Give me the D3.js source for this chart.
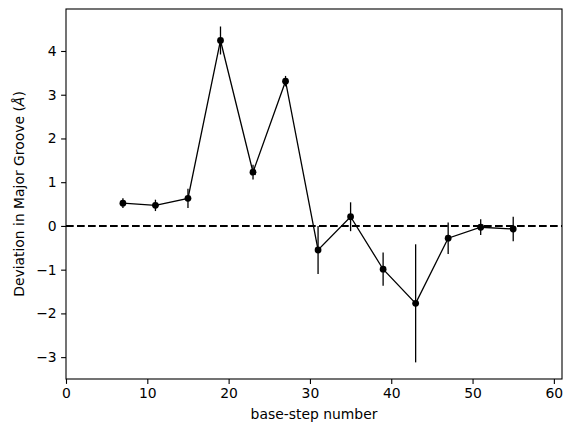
<!DOCTYPE html>
<html>
<head>
<meta charset="utf-8">
<script src="https://cdn.jsdelivr.net/npm/d3@7"></script>
<style>
  body { margin: 0; background: #fff; }
  svg text { font-family: "DejaVu Sans", sans-serif; fill: #000; }
</style>
</head>
<body>
<div id="chart"></div>
<script>
// base-step positions and the mean deviation with its error
let steps = [7, 11, 15, 19, 23, 27, 31, 35, 39, 43, 47, 51, 55];
let deviation = [0.52, 0.47, 0.63, 4.24, 1.23, 3.31, -0.55, 0.21, -0.99, -1.77, -0.28, -0.03, -0.07];
let deviationErr = [0.11, 0.13, 0.22, 0.32, 0.17, 0.12, 0.55, 0.33, 0.38, 1.35, 0.36, 0.18, 0.28];
let xTicks = [0, 10, 20, 30, 40, 50, 60];
let yTicks = [-3, -2, -1, 0, 1, 2, 3, 4];

let width = 572, height = 432;
let margin = {left: 66, right: 10, top: 9, bottom: 53};

let svg = d3.select("#chart").append("svg")
  .attr("width", width)
  .attr("height", height);

let x = d3.scaleLinear().domain([0, 61]).range([margin.left, width - margin.right]);
let y = d3.scaleLinear().domain([-3.5, 4.96]).range([height - margin.bottom, margin.top]);

let points = steps.map((s, i) => ({x: s, y: deviation[i], e: deviationErr[i]}));

// zero reference line
svg.append("line")
  .attr("x1", x.range()[0]).attr("x2", x.range()[1])
  .attr("y1", y(0)).attr("y2", y(0))
  .attr("stroke", "#000")
  .attr("stroke-width", 2)
  .attr("stroke-dasharray", "7.7,3.3");

// error bars
svg.selectAll(".err")
  .data(points).enter()
  .append("line")
  .attr("class", "err")
  .attr("x1", d => x(d.x)).attr("x2", d => x(d.x))
  .attr("y1", d => y(d.y - d.e)).attr("y2", d => y(d.y + d.e))
  .attr("stroke", "#000")
  .attr("stroke-width", 1.3);

let line = d3.line().x(d => x(d.x)).y(d => y(d.y));
svg.append("path")
  .datum(points)
  .attr("d", line)
  .attr("fill", "none")
  .attr("stroke", "#000")
  .attr("stroke-width", 1.3);

svg.selectAll(".pt")
  .data(points).enter()
  .append("circle")
  .attr("class", "pt")
  .attr("cx", d => x(d.x))
  .attr("cy", d => y(d.y))
  .attr("r", 3.4)
  .attr("fill", "#000");

// axes
let xAxis = svg.append("g")
  .attr("transform", `translate(0,${height - margin.bottom})`)
  .call(d3.axisBottom(x).tickValues(xTicks).tickSize(4.9).tickPadding(4.5));
let yAxis = svg.append("g")
  .attr("transform", `translate(${margin.left},0)`)
  .call(d3.axisLeft(y).tickValues(yTicks).tickSize(4.9).tickPadding(4.5)
    .tickFormat(d => d < 0 ? "\u2212" + Math.abs(d) : d));

[xAxis, yAxis].forEach(g => {
  g.select(".domain").remove();
  g.selectAll("text").style("font-size", "13.9px").attr("fill", "#000");
  g.selectAll("line").attr("stroke", "#000").attr("stroke-width", 1.1);
});

// frame
svg.append("rect")
  .attr("x", x.range()[0]).attr("y", y.range()[1])
  .attr("width", x.range()[1] - x.range()[0])
  .attr("height", y.range()[0] - y.range()[1])
  .attr("fill", "none")
  .attr("stroke", "#000")
  .attr("stroke-width", 1.1);

svg.append("text")
  .attr("x", (x.range()[0] + x.range()[1]) / 2)
  .attr("y", 419)
  .attr("text-anchor", "middle")
  .style("font-size", "13.9px")
  .text("base-step number");

let ylab = svg.append("text")
  .attr("transform", `translate(24,${(y.range()[0] + y.range()[1]) / 2}) rotate(-90)`)
  .attr("text-anchor", "middle")
  .style("font-size", "13.9px");
ylab.append("tspan").text("Deviation in Major Groove (");
ylab.append("tspan").style("font-style", "italic").text("\u00C5");
ylab.append("tspan").text(")");
</script>
</body>
</html>
